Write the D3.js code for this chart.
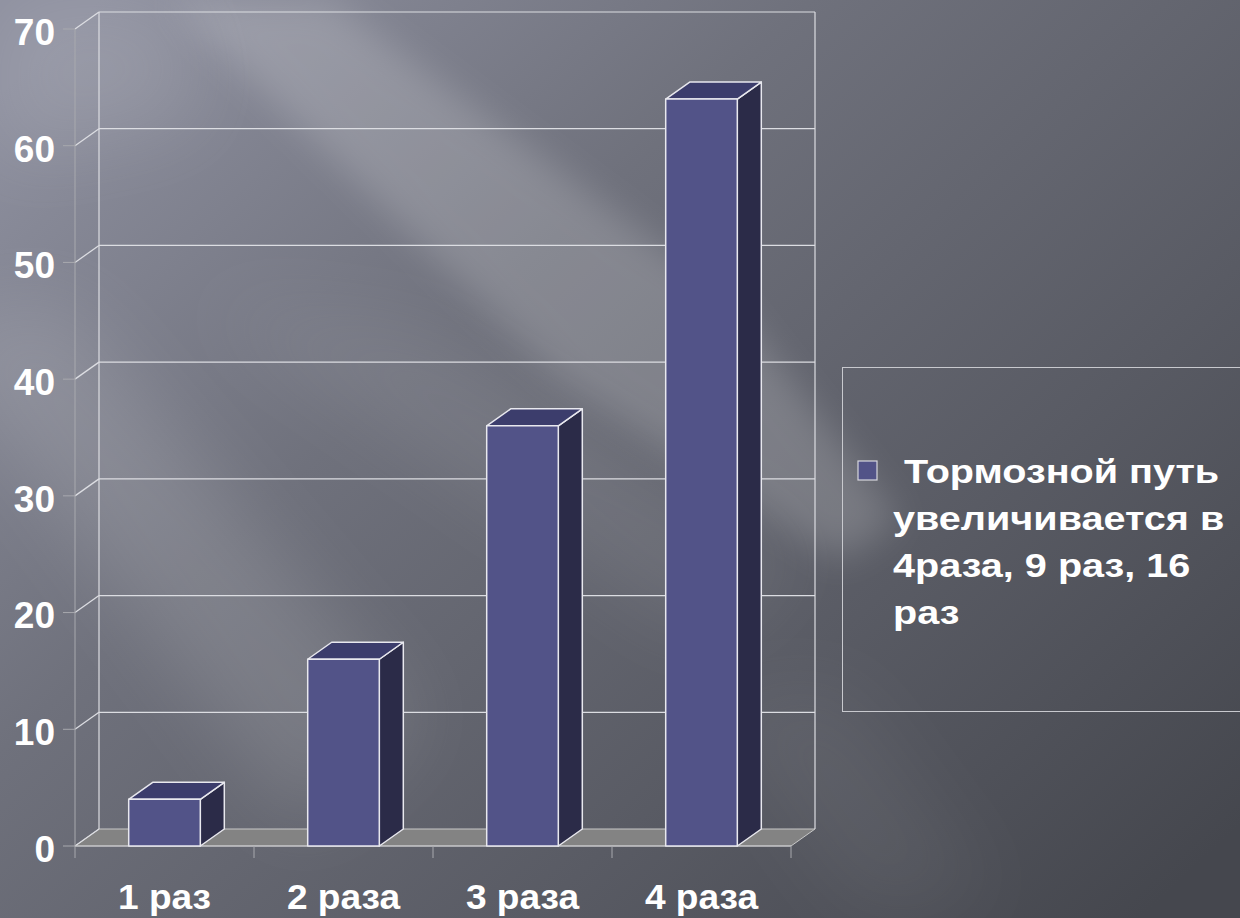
<!DOCTYPE html>
<html><head><meta charset="utf-8">
<script src="https://cdn.jsdelivr.net/npm/d3@7"></script>
<style>html,body{margin:0;padding:0;background:#5d5f68;}svg{display:block;}</style>
</head><body>
<script>
const categories = ["1 раз", "2 раза", "3 раза", "4 раза"];
const values = [4, 16, 36, 64];
const yTicks = [0, 10, 20, 30, 40, 50, 60, 70];
const legendLines = [" Тормозной путь", "увеличивается в", "4раза, 9 раз, 16", "раз"];

const W = 1240, H = 918;
const svg = d3.select("body").append("svg").attr("width", W).attr("height", H);
const defs = svg.append("defs");
const FONT = "Liberation Sans, Arial, sans-serif";

// background
const bg = defs.append("linearGradient").attr("id","bg").attr("x1","0").attr("y1","0.1").attr("x2","1").attr("y2","0.9");
bg.append("stop").attr("offset","0").attr("stop-color","#8e909f");
bg.append("stop").attr("offset","0.35").attr("stop-color","#6f717c");
bg.append("stop").attr("offset","0.7").attr("stop-color","#595b64");
bg.append("stop").attr("offset","1").attr("stop-color","#45474e");
svg.append("rect").attr("width",W).attr("height",H).attr("fill","url(#bg)");
const blur = defs.append("filter").attr("id","blur").attr("x","-50%").attr("y","-50%").attr("width","200%").attr("height","200%");
blur.append("feGaussianBlur").attr("stdDeviation", 18);
const blur2 = defs.append("filter").attr("id","blur2").attr("x","-50%").attr("y","-50%").attr("width","200%").attr("height","200%");
blur2.append("feGaussianBlur").attr("stdDeviation", 40);
const streaks = [
  {pts:[[170,0],[330,0],[720,290],[900,520],[840,560],[560,380]], o:0.17, f:"blur"},
  {pts:[[200,300],[420,330],[800,560],[700,640]], o:0.08, f:"blur2"},
  {pts:[[-80,330],[60,300],[420,720],[300,830]], o:0.12, f:"blur2"},
  {pts:[[0,0],[180,0],[200,120],[0,160]], o:0.10, f:"blur2"},
  {pts:[[700,700],[840,680],[1000,900],[860,918]], o:0.05, f:"blur2"}
];
streaks.forEach(s => svg.append("polygon").attr("filter","url(#"+s.f+")").attr("points", s.pts.map(p=>p.join(",")).join(" ")).attr("fill","#ffffff").attr("opacity", s.o));

// scales
const y = d3.scaleLinear().domain([0,70]).range([846,29]);
const x = d3.scaleBand().domain(categories).range([75,791]).padding(0);
const DX = 24, DY = -17;
const x0 = 75, x1 = 791;
const grid = "#dcdde2";

// floor
svg.append("polygon")
  .attr("points", [[x0,y(0)],[x0+DX,y(0)+DY],[x1+DX,y(0)+DY],[x1,y(0)]].map(p=>p.join(",")).join(" "))
  .attr("fill","#838383").attr("stroke","#c8c8c8").attr("stroke-width",1);

// back wall gridlines
const g = svg.append("g");
yTicks.forEach(t => {
  if (t > 0) g.append("line").attr("x1",x0+DX).attr("x2",x1+DX).attr("y1",y(t)+DY).attr("y2",y(t)+DY).attr("stroke",grid).attr("stroke-width",1.2);
  g.append("line").attr("x1",x0).attr("y1",y(t)).attr("x2",x0+DX).attr("y2",y(t)+DY).attr("stroke",grid).attr("stroke-width",1.3);
});
g.append("line").attr("x1",x0+DX).attr("x2",x0+DX).attr("y1",y(70)+DY).attr("y2",y(0)+DY).attr("stroke",grid).attr("stroke-width",1.2);
g.append("line").attr("x1",x1+DX).attr("x2",x1+DX).attr("y1",y(70)+DY).attr("y2",y(0)+DY).attr("stroke",grid).attr("stroke-width",1.2);

// front axis
g.append("line").attr("x1",x0).attr("x2",x0).attr("y1",y(70)).attr("y2",y(0)).attr("stroke","#a8a9ae").attr("stroke-width",1);
g.append("line").attr("x1",x0).attr("x2",x1).attr("y1",y(0)).attr("y2",y(0)).attr("stroke","#c8c8cc").attr("stroke-width",1);
yTicks.forEach(t => g.append("line").attr("x1",x0-12).attr("x2",x0).attr("y1",y(t)).attr("y2",y(t)).attr("stroke","#a8a9ae").attr("stroke-width",1));
const xt = [x0].concat(categories.map(c => x(c)+x.bandwidth()));
xt.forEach(v => g.append("line").attr("x1",v).attr("x2",v).attr("y1",y(0)).attr("y2",y(0)+12).attr("stroke","#a8a9ae").attr("stroke-width",1));

// y labels
svg.append("g").selectAll("text").data(yTicks).join("text")
  .attr("x",55).attr("y",d=>y(d)).attr("dy","0.43em").attr("text-anchor","end")
  .attr("font-family",FONT).attr("font-weight","bold").attr("font-size",37)
  .attr("fill","#ffffff").text(d=>d);

// x labels
svg.append("g").selectAll("text").data(categories).join("text")
  .attr("transform",d=>`translate(${x(d)+x.bandwidth()/2},909) scale(1.06,1)`)
  .attr("text-anchor","middle")
  .attr("font-family",FONT).attr("font-weight","bold").attr("font-size",35)
  .attr("fill","#ffffff").text(d=>d);

// bars
const bw = x.bandwidth()*0.4;
const bars = svg.append("g");
categories.forEach((c,i) => {
  const cx = x(c)+x.bandwidth()/2;
  const l = cx-bw/2, r = cx+bw/2, top = y(values[i]), bot = y(0);
  const st = {"stroke":"#e8e8ee","stroke-width":1.5,"stroke-linejoin":"round"};
  const side = bars.append("polygon").attr("points",[[r,bot],[r,top],[r+DX,top+DY],[r+DX,bot+DY]].map(p=>p.join(",")).join(" ")).attr("fill","#2b2b48");
  const tp = bars.append("polygon").attr("points",[[l,top],[l+DX,top+DY],[r+DX,top+DY],[r,top]].map(p=>p.join(",")).join(" ")).attr("fill","#3c3d6c");
  const fr = bars.append("rect").attr("x",l).attr("y",top).attr("width",bw).attr("height",bot-top).attr("fill","#525388");
  [side,tp,fr].forEach(s => Object.entries(st).forEach(([k,v]) => s.attr(k,v)));
});

// legend
const lg = svg.append("g");
lg.append("rect").attr("x",842.5).attr("y",367.5).attr("width",420).attr("height",344).attr("fill","none").attr("stroke","#c8c9ce").attr("stroke-width",1);
lg.append("rect").attr("x",858).attr("y",461).attr("width",19).attr("height",19).attr("fill","#525388").attr("stroke","#d8d8de").attr("stroke-width",1.2);
lg.append("g").selectAll("text").data(legendLines).join("text")
  .attr("transform",(d,i)=>`translate(893,${483+i*47}) scale(1.2,1)`)
  .attr("xml:space","preserve")
  .attr("font-family",FONT).attr("font-weight","bold").attr("font-size",33)
  .attr("fill","#ffffff").style("white-space","pre").text(d=>d);
</script>
</body></html>
